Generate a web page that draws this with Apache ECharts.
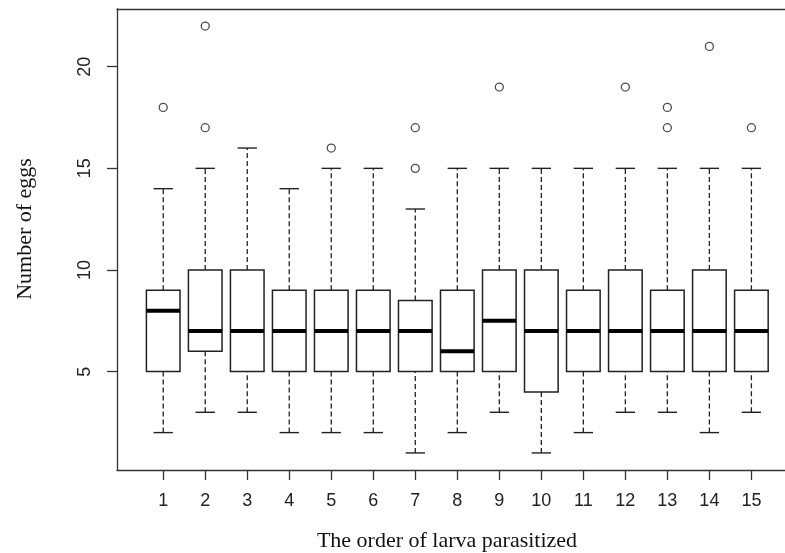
<!DOCTYPE html>
<html>
<head>
<meta charset="utf-8">
<script src="https://cdn.jsdelivr.net/npm/echarts@6/dist/echarts.min.js"></script>
<style>
html,body{margin:0;padding:0;background:#fff;}
#chart{width:785px;height:553px;}
</style>
</head>
<body>
<div id="chart"></div>
<script>
// ---- data ----
const positions   = [1,2,3,4,5,6,7,8,9,10,11,12,13,14,15];
const tickLabelsX = ['1','2','3','4','5','6','7','8','9','10','11','12','13','14','15'];
const tickValuesY = [5,10,15,20];
const whiskerLow  = [2,3,3,2,2,2,1,2,3,1,2,3,3,2,3];
const q1          = [5,6,5,5,5,5,5,5,5,4,5,5,5,5,5];
const median      = [8,7,7,7,7,7,7,6,7.5,7,7,7,7,7,7];
const q3          = [9,10,10,9,9,9,8.5,9,10,10,9,10,9,10,9];
const whiskerHigh = [14,15,16,14,15,15,13,15,15,15,15,15,15,15,15];
const outlierX    = [1,2,2,5,7,7,9,12,13,13,14,15];
const outlierY    = [18,17,22,16,15,17,19,19,17,18,21,17];

const boxData = positions.map((p,i)=>[p, whiskerLow[i], q1[i], median[i], q3[i], whiskerHigh[i]]);
const outData = outlierX.map((x,i)=>[x, outlierY[i]]);

const INK = '#222';
const HALF_BOX = 0.4, HALF_CAP = 0.23;

const chart = echarts.init(document.getElementById('chart'));
chart.setOption({
  backgroundColor:'#fff',
  animation:false,
  grid:{left:117, top:9, right:0, bottom:83},
  xAxis:[{
    type:'value', min:-0.1, max:15.8, position:'bottom',
    splitLine:{show:false},
    axisLine:{show:true, onZero:false, lineStyle:{color:'#333', width:1.3}},
    axisTick:{show:true, length:10, customValues:positions, lineStyle:{color:'#333', width:1.3}},
    axisLabel:{show:true, customValues:positions, margin:22,
      formatter:(v)=>tickLabelsX[positions.indexOf(v)],
      fontFamily:'"Liberation Sans", Arial, sans-serif', fontSize:18, color:'#222'}
  },{
    type:'value', min:-0.1, max:15.8, position:'top',
    splitLine:{show:false},
    axisLine:{show:true, onZero:false, lineStyle:{color:'#333', width:1.3}},
    axisTick:{show:false}, axisLabel:{show:false}
  }],
  yAxis:{
    type:'value', min:0.16, max:22.84,
    splitLine:{show:false},
    axisLine:{show:true, onZero:false, lineStyle:{color:'#333', width:1.3}},
    axisTick:{show:true, length:10, customValues:tickValuesY, lineStyle:{color:'#333', width:1.3}},
    axisLabel:{show:true, customValues:tickValuesY, rotate:90, margin:23,
      fontFamily:'"Liberation Sans", Arial, sans-serif', fontSize:18, color:'#222'}
  },
  graphic:[
    {type:'text', x:447, y:541, style:{text:'The order of larva parasitized',
      font:'22px "Liberation Serif", "Times New Roman", serif', fill:'#111',
      textAlign:'center', textVerticalAlign:'middle'}},
    {type:'text', x:25, y:229, rotation:Math.PI/2, style:{text:'Number of eggs',
      font:'22px "Liberation Serif", "Times New Roman", serif', fill:'#111',
      textAlign:'center', textVerticalAlign:'middle'}}
  ],
  series:[{
    type:'custom',
    coordinateSystem:'cartesian2d',
    xAxisIndex:0,
    encode:{x:0, y:[1,2,3,4,5]},
    data:boxData,
    renderItem:function(params, api){
      const x = api.value(0), lo = api.value(1), a = api.value(2),
            md = api.value(3), b = api.value(4), hi = api.value(5);
      const c  = (v)=>api.coord([x, v]);
      const L  = api.coord([x-HALF_BOX, b]);
      const R  = api.coord([x+HALF_BOX, a]);
      const cL = api.coord([x-HALF_CAP, hi]);
      const cR = api.coord([x+HALF_CAP, lo]);
      const mL = api.coord([x-HALF_BOX, md]);
      const mR = api.coord([x+HALF_BOX, md]);
      const solid = {stroke:INK, lineWidth:1.4, fill:null};
      const dash  = {stroke:INK, lineWidth:1.3, lineDash:[5,3]};
      return {type:'group', children:[
        {type:'line', shape:{x1:c(b)[0], y1:c(b)[1], x2:c(hi)[0], y2:c(hi)[1]}, style:dash},
        {type:'line', shape:{x1:c(lo)[0], y1:c(lo)[1], x2:c(a)[0], y2:c(a)[1]}, style:dash},
        {type:'line', shape:{x1:cL[0], y1:c(hi)[1], x2:cR[0], y2:c(hi)[1]}, style:solid},
        {type:'line', shape:{x1:cL[0], y1:c(lo)[1], x2:cR[0], y2:c(lo)[1]}, style:solid},
        {type:'rect', shape:{x:L[0], y:L[1], width:R[0]-L[0], height:R[1]-L[1]}, style:{stroke:INK, lineWidth:1.5, fill:'#fff'}},
        {type:'line', shape:{x1:mL[0], y1:mL[1], x2:mR[0], y2:mR[1]}, style:{stroke:'#000', lineWidth:4}}
      ]};
    }
  },{
    type:'scatter',
    xAxisIndex:0,
    data:outData,
    symbol:'circle',
    symbolSize:8,
    itemStyle:{color:'#fff', borderColor:INK, borderWidth:1.3},
    emphasis:{disabled:true}
  }]
});
</script>
</body>
</html>
